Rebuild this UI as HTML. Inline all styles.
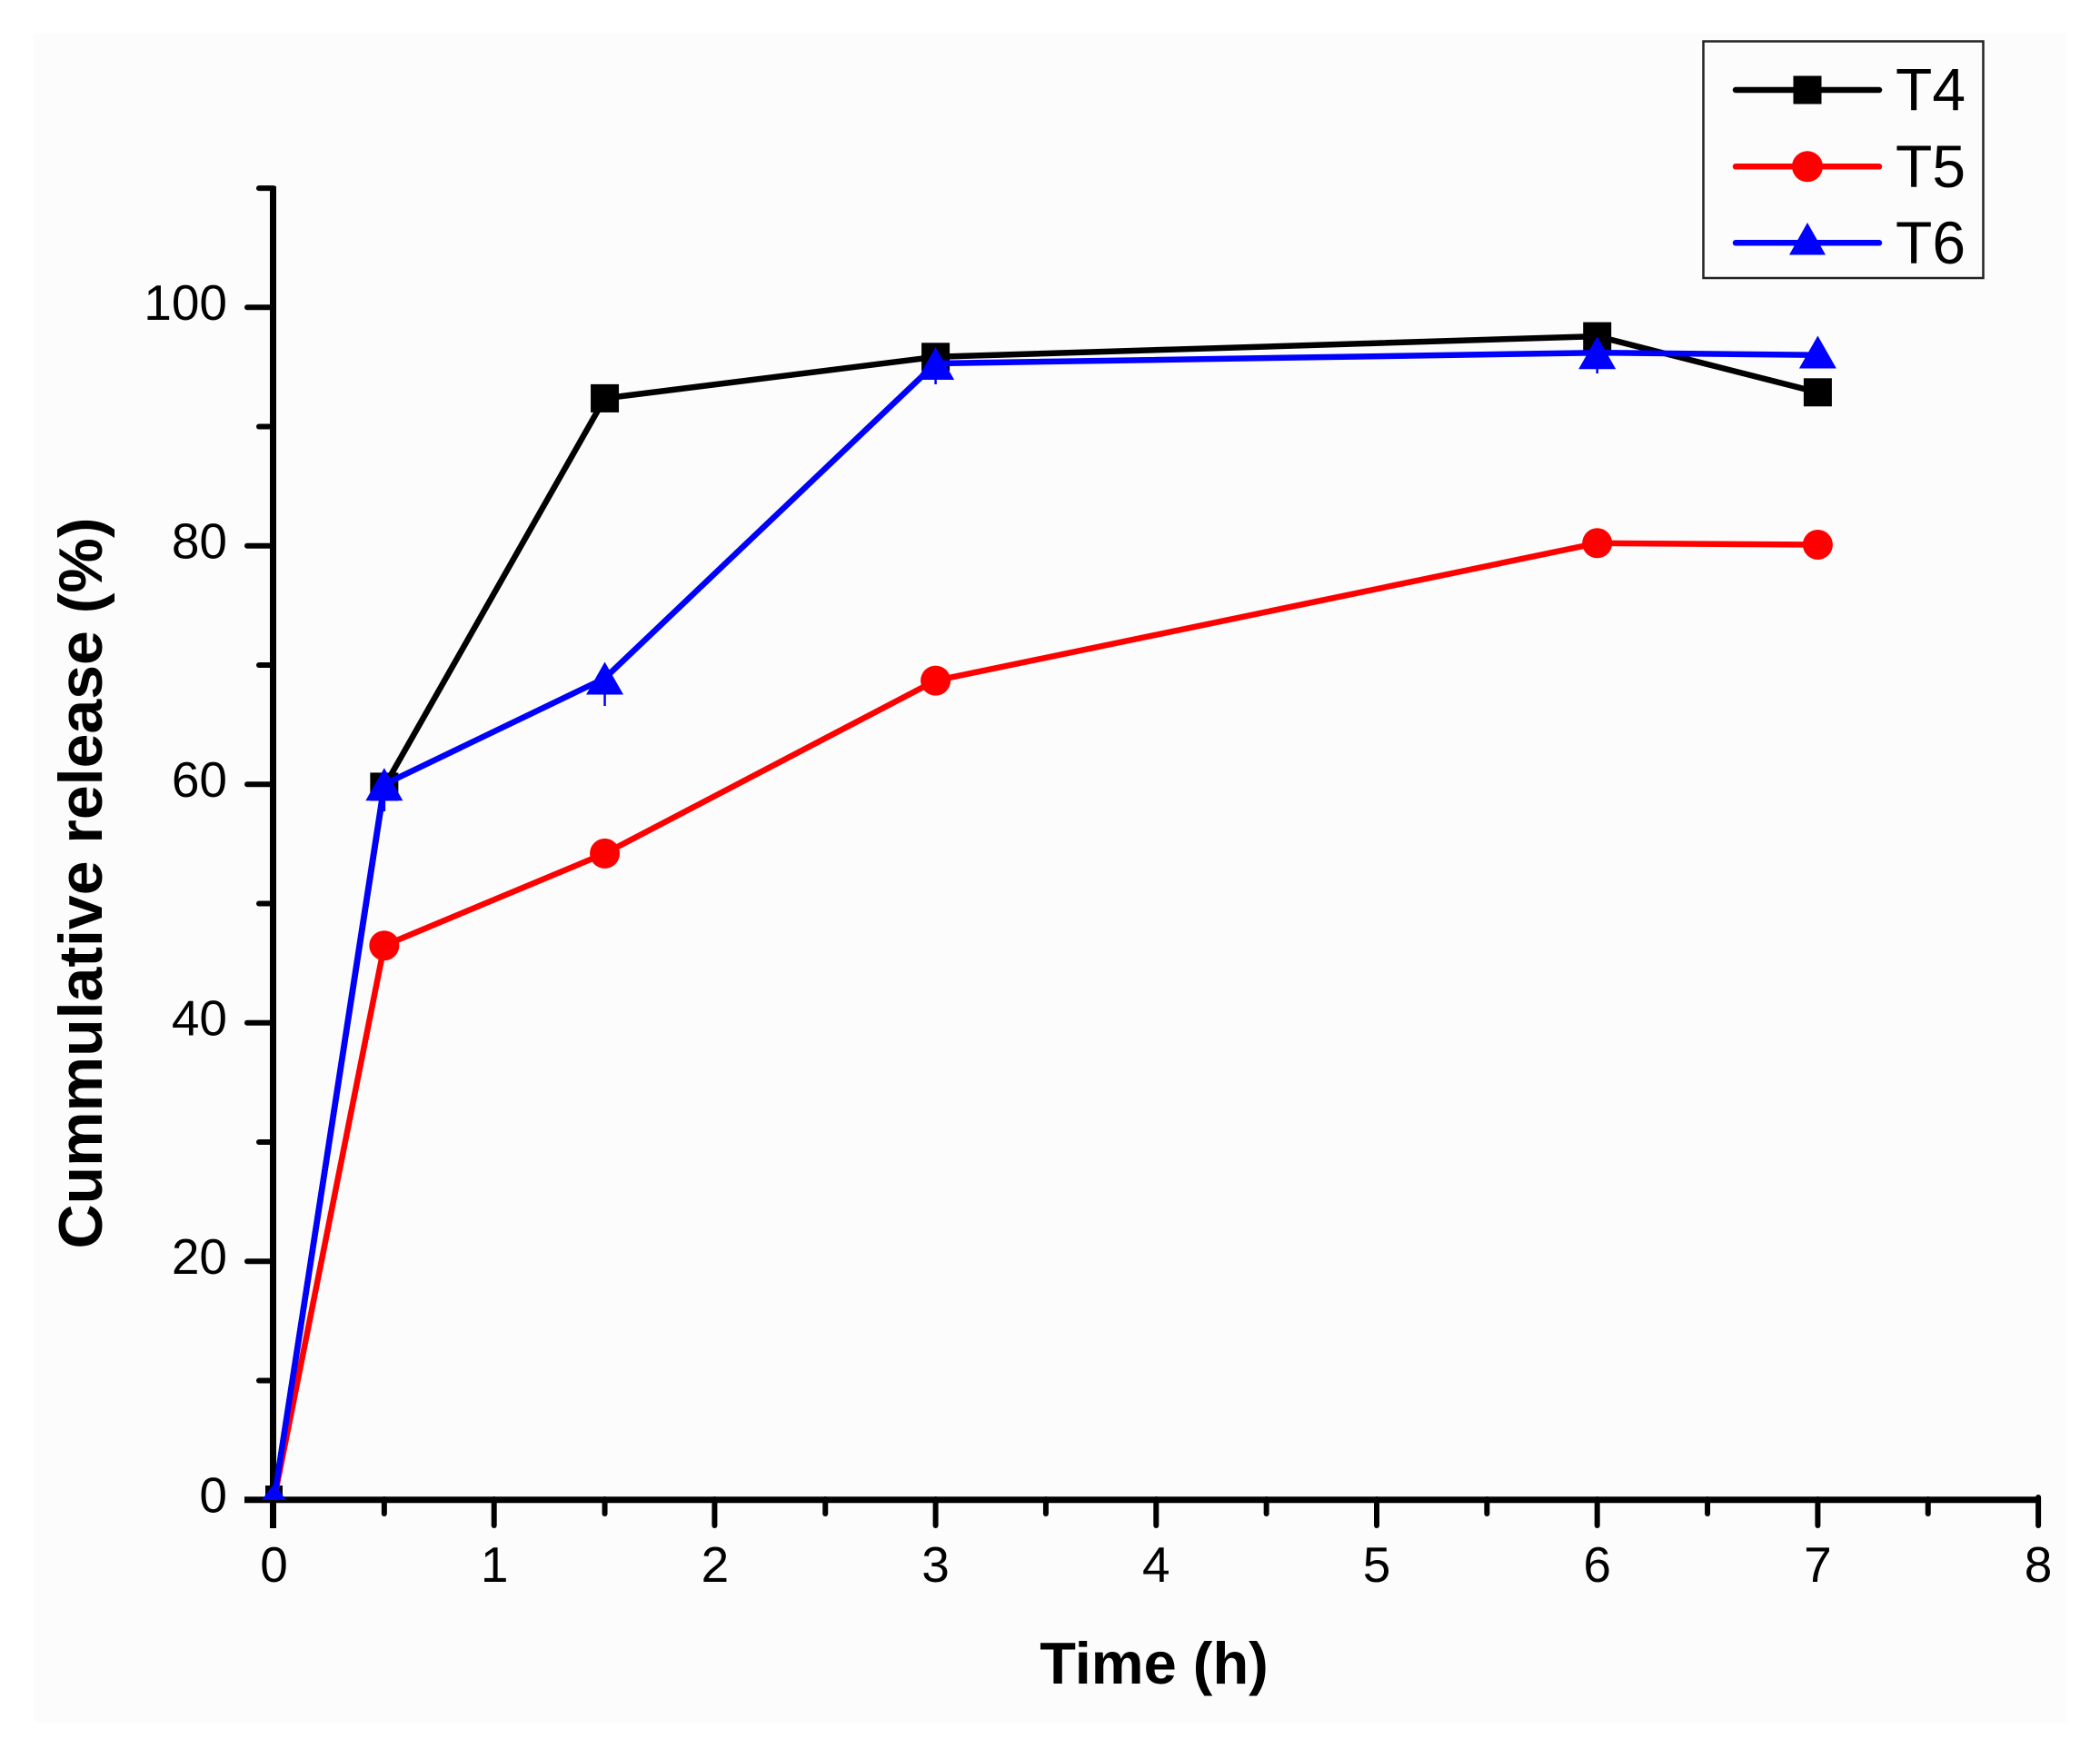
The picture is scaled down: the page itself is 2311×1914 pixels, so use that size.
<!DOCTYPE html>
<html>
<head>
<meta charset="utf-8">
<style>
  html, body { margin: 0; padding: 0; background: #ffffff; }
  svg { display: block; }
  text { font-family: "Liberation Sans", Arial, sans-serif; fill: #000; }
</style>
</head>
<body>
<svg width="2311" height="1914" viewBox="0 0 2311 1914" xmlns="http://www.w3.org/2000/svg">
  <rect x="0" y="0" width="2311" height="1914" fill="#ffffff"/>
  <rect x="37" y="37" width="2237" height="1859" fill="#fcfcfc"/>

  <!-- Axes -->
  <g stroke="#000" stroke-width="7" fill="none" stroke-linecap="butt">
    <line x1="300.5" y1="205" x2="300.5" y2="1682"/>
    <line x1="269" y1="1650.7" x2="2243.5" y2="1650.7"/>
  </g>
  <!-- X ticks major -->
  <g stroke="#000" stroke-width="6" stroke-linecap="round">
    <line x1="543.7" y1="1650" x2="543.7" y2="1679"/>
    <line x1="786.4" y1="1650" x2="786.4" y2="1679"/>
    <line x1="1029.6" y1="1650" x2="1029.6" y2="1679"/>
    <line x1="1272.3" y1="1650" x2="1272.3" y2="1679"/>
    <line x1="1515" y1="1650" x2="1515" y2="1679"/>
    <line x1="1757.7" y1="1650" x2="1757.7" y2="1679"/>
    <line x1="2000.4" y1="1650" x2="2000.4" y2="1679"/>
    <line x1="2243.1" y1="1648" x2="2243.1" y2="1679"/>
    <!-- minor -->
    <line x1="422.85" y1="1650" x2="422.85" y2="1666"/>
    <line x1="665.55" y1="1650" x2="665.55" y2="1666"/>
    <line x1="908.25" y1="1650" x2="908.25" y2="1666"/>
    <line x1="1150.95" y1="1650" x2="1150.95" y2="1666"/>
    <line x1="1393.65" y1="1650" x2="1393.65" y2="1666"/>
    <line x1="1636.35" y1="1650" x2="1636.35" y2="1666"/>
    <line x1="1879.05" y1="1650" x2="1879.05" y2="1666"/>
    <line x1="2121.75" y1="1650" x2="2121.75" y2="1666"/>
  </g>
  <!-- Y ticks -->
  <g stroke="#000" stroke-width="6" stroke-linecap="round">
    <line x1="272" y1="1388.2" x2="301" y2="1388.2"/>
    <line x1="272" y1="1125.7" x2="301" y2="1125.7"/>
    <line x1="272" y1="863.3" x2="301" y2="863.3"/>
    <line x1="272" y1="600.8" x2="301" y2="600.8"/>
    <line x1="272" y1="338.3" x2="301" y2="338.3"/>
    <!-- minor -->
    <line x1="285" y1="1519.5" x2="301" y2="1519.5"/>
    <line x1="285" y1="1257" x2="301" y2="1257"/>
    <line x1="285" y1="994.5" x2="301" y2="994.5"/>
    <line x1="285" y1="732" x2="301" y2="732"/>
    <line x1="285" y1="469.5" x2="301" y2="469.5"/>
    <line x1="285" y1="207.1" x2="301" y2="207.1"/>
  </g>

  <!-- X tick labels -->
  <g font-size="55" text-anchor="middle">
    <text x="301.5" y="1741">0</text>
    <text x="544.2" y="1741">1</text>
    <text x="786.9" y="1741">2</text>
    <text x="1029.6" y="1741">3</text>
    <text x="1272.3" y="1741">4</text>
    <text x="1515" y="1741">5</text>
    <text x="1757.7" y="1741">6</text>
    <text x="2000.4" y="1741">7</text>
    <text x="2243.1" y="1741">8</text>
  </g>
  <!-- Y tick labels -->
  <g font-size="55" text-anchor="end">
    <text x="250" y="1664.5">0</text>
    <text x="250" y="1402">20</text>
    <text x="250" y="1139.5">40</text>
    <text x="250" y="877">60</text>
    <text x="250" y="614.5">80</text>
    <text x="250" y="352">100</text>
  </g>

  <!-- Axis titles -->
  <text x="1270" y="1853" font-size="65" font-weight="bold" text-anchor="middle">Time (h)</text>
  <text transform="translate(112,972) rotate(-90)" font-size="68" font-weight="bold" text-anchor="middle">Cummulative release (%)</text>

  <!-- T4 series (black squares) -->
  <polyline fill="none" stroke="#000" stroke-width="6.5" stroke-linejoin="round"
    points="301.5,1650.7 422.85,865.9 665.55,438.4 1029.6,392.8 1757.7,370.1 2000.4,431.8"/>
  <g fill="#000">
    <rect x="292" y="1635" width="19" height="16"/>
    <rect x="407.35" y="850.4" width="31" height="31"/>
    <rect x="650.05" y="422.9" width="31" height="31"/>
    <rect x="1014.1" y="377.3" width="31" height="31"/>
    <rect x="1742.2" y="354.6" width="31" height="31"/>
    <rect x="1984.9" y="416.3" width="31" height="31"/>
  </g>

  <!-- T5 series (red circles) -->
  <polyline fill="none" stroke="#ff0000" stroke-width="6.5" stroke-linejoin="round"
    points="301.5,1650.7 422.85,1040.7 665.55,939.4 1029.6,749.1 1757.7,597.8 2000.4,599.5"/>
  <g fill="#ff0000">
    <circle cx="422.85" cy="1040.7" r="16.5"/>
    <circle cx="665.55" cy="939.4" r="16.5"/>
    <circle cx="1029.6" cy="749.1" r="16.5"/>
    <circle cx="1757.7" cy="597.8" r="16.5"/>
    <circle cx="2000.4" cy="599.5" r="16.5"/>
  </g>

  <!-- T6 series (blue triangles) -->
  <polyline fill="none" stroke="#0000ff" stroke-width="6.5" stroke-linejoin="round"
    points="301.5,1650.7 422.85,863.3 665.55,746.5 1029.6,400 1757.7,388.2 2000.4,390.8"/>
  <g stroke="#0000ff" stroke-width="2.5">
    <line x1="422.85" y1="863" x2="422.85" y2="893"/>
    <line x1="665.55" y1="746" x2="665.55" y2="777"/>
    <line x1="1029.6" y1="400" x2="1029.6" y2="423"/>
    <line x1="1757.7" y1="388" x2="1757.7" y2="411"/>
    <line x1="2000.4" y1="388" x2="2000.4" y2="405"/>
  </g>
  <g fill="#0000ff">
    <polygon points="301.5,1633 315,1651 288,1651"/>
    <polygon points="402.35,881.3 443.35,881.3 422.85,845.3"/>
    <polygon points="645.05,764.5 686.05,764.5 665.55,728.5"/>
    <polygon points="1009.1,418 1050.1,418 1029.6,382"/>
    <polygon points="1737.2,406.2 1778.2,406.2 1757.7,370.2"/>
    <polygon points="1979.9,405.5 2020.9,405.5 2000.4,369.5"/>
  </g>

  <!-- Legend -->
  <rect x="1874.5" y="45.5" width="308" height="260.5" fill="none" stroke="#222" stroke-width="2.5"/>
  <g stroke-width="6.5" stroke-linecap="round">
    <line x1="1910" y1="99" x2="2068" y2="99" stroke="#000"/>
    <line x1="1910" y1="183.3" x2="2068" y2="183.3" stroke="#ff0000"/>
    <line x1="1910" y1="267.3" x2="2068" y2="267.3" stroke="#0000ff"/>
  </g>
  <rect x="1973.5" y="83.5" width="31" height="31" fill="#000"/>
  <circle cx="1989" cy="183.3" r="17" fill="#ff0000"/>
  <polygon points="1969,280.5 2009,280.5 1989,245" fill="#0000ff"/>
  <g font-size="66">
    <text x="2086" y="121.7">T4</text>
    <text x="2086" y="206">T5</text>
    <text x="2086" y="290">T6</text>
  </g>
</svg>
</body>
</html>
